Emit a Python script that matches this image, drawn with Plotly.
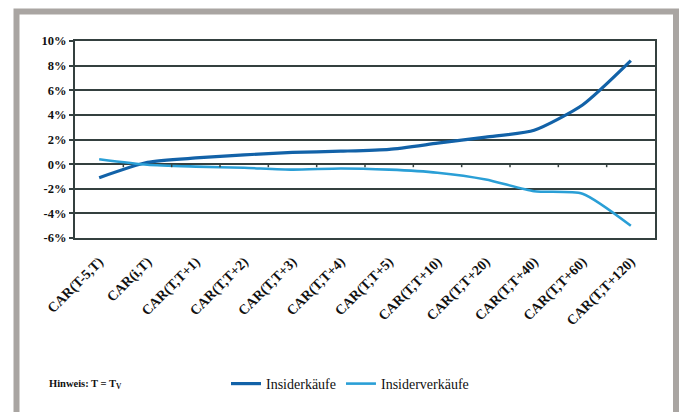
import plotly.graph_objects as go

categories = ["CAR(T-5,T)", "CAR(i,T)", "CAR(T,T+1)", "CAR(T,T+2)", "CAR(T,T+3)",
              "CAR(T,T+4)", "CAR(T,T+5)", "CAR(T,T+10)", "CAR(T,T+20)",
              "CAR(T,T+40)", "CAR(T,T+60)", "CAR(T,T+120)"]
insiderkaeufe = [-1.1, 0.15, 0.5, 0.75, 0.95, 1.05, 1.2, 1.7, 2.2, 2.75, 4.8, 8.4]
insiderverkaeufe = [0.4, -0.05, -0.2, -0.3, -0.45, -0.35, -0.45, -0.7, -1.25, -2.2, -2.4, -5.0]
y_ticks = [-6, -4, -2, 0, 2, 4, 6, 8, 10]

W, H = 684, 412
L, R, T, B = 75, 655, 41, 238


def px(x):
    return (x - L) / (R - L)


def py(y):
    return (B - y) / (B - T)


grid_col = "#34403f"
serif = "Liberation Serif, Times New Roman, serif"

fig = go.Figure()
fig.add_trace(go.Scatter(x=categories, y=insiderkaeufe, mode="lines", name="Insiderkäufe",
                         line=dict(color="#1262a8", width=3.2, shape="spline", smoothing=0.6)))
fig.add_trace(go.Scatter(x=categories, y=insiderverkaeufe, mode="lines", name="Insiderverkäufe",
                         line=dict(color="#2a9fd6", width=2.6, shape="spline", smoothing=0.6)))

shapes = []
# small tick marks on the zero line between categories
for i in range(len(categories) - 1):
    shapes.append(dict(type="line", xref="x", yref="y", x0=i + 0.5, x1=i + 0.5, y0=0, y1=-0.25,
                       line=dict(color=grid_col, width=1.5)))
# outer grey frame
shapes.append(dict(type="rect", xref="paper", yref="paper",
                   x0=px(16.5), x1=px(676), y0=py(430), y1=py(11.5),
                   line=dict(color="#a9a5a2", width=6), fillcolor="rgba(0,0,0,0)", layer="below"))

fig.update_layout(
    width=W, height=H,
    margin=dict(l=L, r=W - R, t=T, b=H - B),
    paper_bgcolor="white", plot_bgcolor="white",
    showlegend=True,
    legend=dict(orientation="h", x=px(226), xanchor="left", y=py(384), yanchor="middle",
                font=dict(family=serif, size=14, color="#111"), bgcolor="rgba(0,0,0,0)",
                itemwidth=30),
    shapes=shapes,
    annotations=[dict(text="Hinweis: T = T<sub>V</sub>", xref="paper", yref="paper",
                      x=px(47), y=py(384), xanchor="left", yanchor="middle", showarrow=False,
                      font=dict(family=serif, size=10.5, color="#111", weight="bold"))],
    xaxis=dict(type="category", categoryorder="array", categoryarray=categories,
               tickangle=-45, showgrid=False, showline=True, mirror=True,
               linecolor=grid_col, linewidth=2, ticks="", ticklabelstandoff=8,
               tickfont=dict(family=serif, size=14, color="#111", weight="bold"),
               range=[-0.5, len(categories) - 0.5]),
    yaxis=dict(range=[-6, 10], tickvals=y_ticks, ticktext=[f"{v}%" for v in y_ticks],
               showgrid=True, gridcolor=grid_col, gridwidth=1.5, zeroline=False,
               showline=True, mirror=True, linecolor=grid_col, linewidth=2,
               ticks="outside", ticklen=4, tickcolor=grid_col, tickwidth=1.5,
               tickfont=dict(family=serif, size=12.5, color="#111", weight="bold")),
)

fig.write_html("out.html")
